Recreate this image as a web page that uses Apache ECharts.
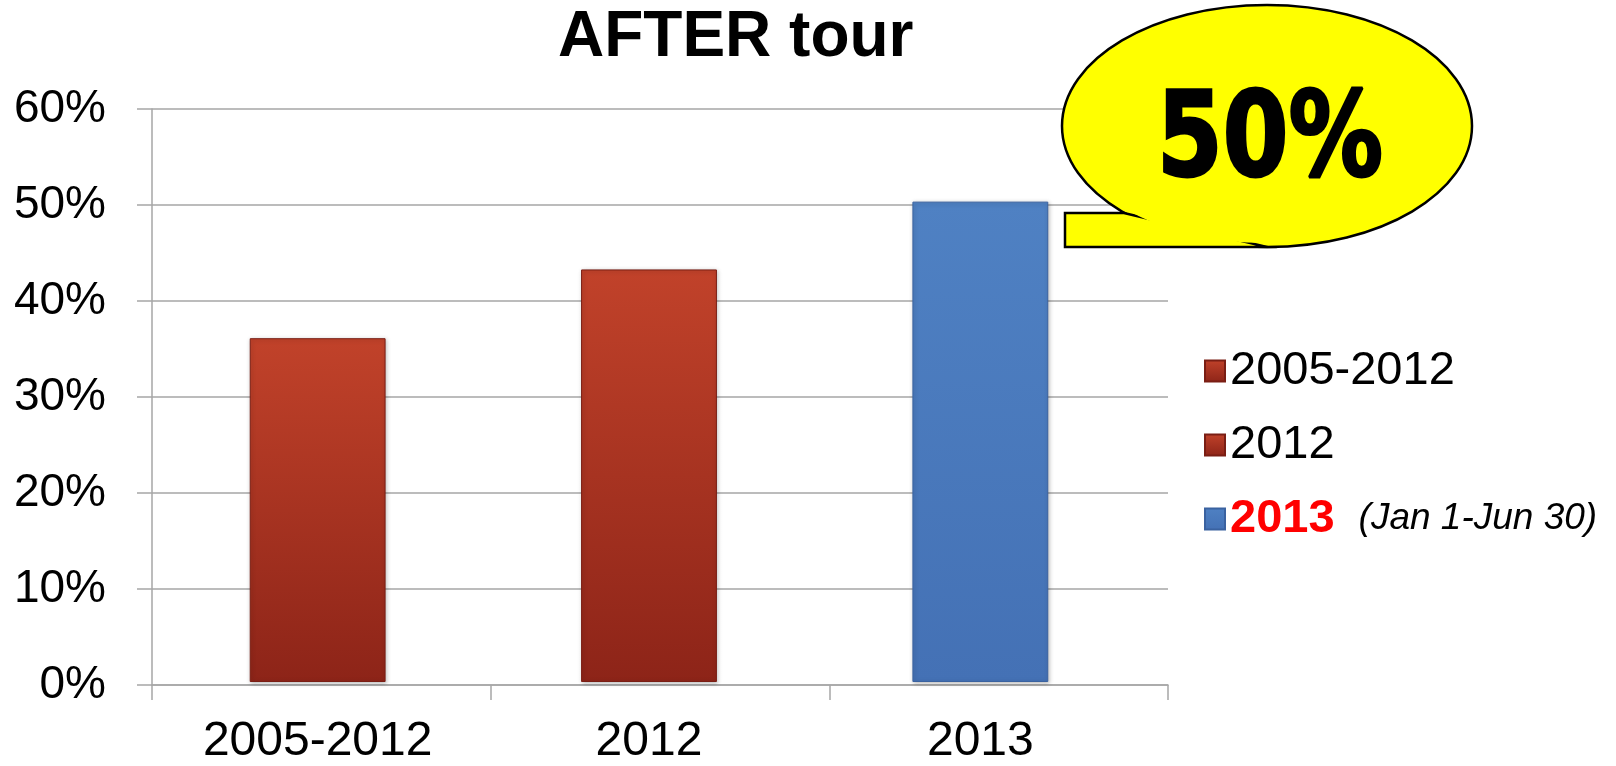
<!DOCTYPE html>
<html>
<head>
<meta charset="utf-8">
<script src="https://cdn.jsdelivr.net/npm/echarts@6/dist/echarts.min.js"></script>
<style>
  html, body { margin: 0; padding: 0; background: #ffffff; }
  #chart { width: 1616px; height: 766px; }
</style>
</head>
<body>
<div id="chart"></div>
<script>
// ---- data ----
const categories = ['2005-2012', '2012', '2013'];
const values = [36.0, 43.2, 50.3];
const yTicks = [0, 10, 20, 30, 40, 50, 60];
const legendNames = ['2005-2012', '2012', '2013'];
const legendNote = '(Jan 1-Jun 30)';
const titleText = 'AFTER tour';

const FONT = '"Liberation Sans", Arial, sans-serif';
const AXIS_GRAY = '#a6a6a6';

function grad(top, bottom) {
  return new echarts.graphic.LinearGradient(0, 0, 0, 1, [
    { offset: 0, color: top },
    { offset: 1, color: bottom }
  ]);
}
const fills = [
  grad('#c1422a', '#8d2418'),
  grad('#c1422a', '#8d2418'),
  grad('#4f81c3', '#4471b5')
];
const borders = ['#7a1e14', '#7a1e14', '#3a62a0'];

const series = categories.map((c, i) => ({
  name: legendNames[i],
  type: 'bar',
  xAxisIndex: 1,
  yAxisIndex: 1,
  stack: 'all',
  barWidth: '41%',
  data: values.map((v, j) => (j === i ? v : '-')),
  itemStyle: {
    color: fills[i],
    borderColor: borders[i],
    borderWidth: 1,
    shadowColor: 'rgba(0,0,0,0.25)',
    shadowBlur: 4,
    shadowOffsetX: 1,
    shadowOffsetY: 1
  }
}));

const chart = echarts.init(document.getElementById('chart'), null, { renderer: 'canvas' });

// callout geometry (annotation, not a data mark)
const cx = 1267, cy = 126, rx = 205, ry = 121;
const calloutText = Math.round(values[2]) + '%';

const yMin = yTicks[0], yMax = yTicks[yTicks.length - 1], yStep = yTicks[1] - yTicks[0];

chart.setOption({
  animation: false,
  backgroundColor: '#ffffff',
  title: {
    text: titleText,
    left: 553,
    top: 1,
    textStyle: { fontFamily: FONT, fontSize: 64, fontWeight: 'bold', color: '#000' }
  },
  grid: [
    { left: 152, right: 448, top: 109, bottom: 81, containLabel: false },
    { left: 152, right: 470, top: 109, bottom: 81, containLabel: false }
  ],
  legend: {
    orient: 'vertical',
    left: 1199,
    top: 341,
    itemWidth: 20,
    itemHeight: 21,
    itemGap: 24,
    selectedMode: false,
    icon: 'rect',
    data: legendNames,
    formatter: function (name) {
      if (name === '2013') return '{r|2013}{i|' + legendNote + '}';
      return name;
    },
    textStyle: {
      fontFamily: FONT,
      fontSize: 47,
      lineHeight: 50,
      color: '#000',
      rich: {
        r: { fontFamily: FONT, fontSize: 47, fontWeight: 'bold', color: '#ff0000', lineHeight: 50 },
        i: { fontFamily: FONT, fontSize: 37, fontStyle: 'italic', color: '#000', lineHeight: 50, padding: [0, 0, 0, 24] }
      }
    }
  },
  xAxis: [
    {
      type: 'category',
      gridIndex: 0,
      data: categories,
      boundaryGap: true,
      axisLine: { show: true, lineStyle: { color: AXIS_GRAY, width: 1.5 } },
      axisTick: { show: true, length: 15, alignWithLabel: false, lineStyle: { color: AXIS_GRAY, width: 1.5 } },
      axisLabel: { show: false }
    },
    {
      type: 'category',
      gridIndex: 1,
      data: categories,
      boundaryGap: true,
      axisLine: { show: false },
      axisTick: { show: false },
      axisLabel: { fontFamily: FONT, fontSize: 48, color: '#000', margin: 36 }
    }
  ],
  yAxis: [
    {
      type: 'value',
      gridIndex: 0,
      min: yMin,
      max: yMax,
      interval: yStep,
      axisLine: { show: true, lineStyle: { color: AXIS_GRAY, width: 1.5 } },
      axisTick: { show: true, length: 15, lineStyle: { color: AXIS_GRAY, width: 1.5 } },
      splitLine: { show: true, lineStyle: { color: AXIS_GRAY, width: 1.5 } },
      axisLabel: { fontFamily: FONT, fontSize: 46, color: '#000', margin: 46, formatter: '{value}%' }
    },
    {
      type: 'value',
      gridIndex: 1,
      min: yMin,
      max: yMax,
      interval: yStep,
      show: false,
      splitLine: { show: false }
    }
  ],
  series: series,
  graphic: [
    {
      type: 'ellipse',
      z: 100,
      shape: { cx: cx, cy: cy, rx: rx, ry: ry },
      style: { fill: '#ffff00', stroke: '#000', lineWidth: 2.5 }
    },
    {
      type: 'polygon',
      z: 101,
      shape: { points: [[1124, 213], [1065, 213], [1065, 247], [1267, 247]] },
      style: { fill: '#ffff00', stroke: '#000', lineWidth: 2.5 }
    },
    {
      type: 'ellipse',
      z: 102,
      shape: { cx: cx, cy: cy, rx: rx - 4, ry: ry - 4 },
      style: { fill: '#ffff00', stroke: null }
    },
    {
      type: 'text',
      z: 103,
      x: 1270,
      y: 144,
      scaleX: 0.8,
      style: {
        text: calloutText,
        fontFamily: '"DejaVu Sans", sans-serif',
        fontWeight: 'bold',
        fontSize: 118,
        fill: '#000',
        stroke: '#000',
        lineWidth: 3,
        lineJoin: 'round',
        align: 'center',
        verticalAlign: 'middle'
      }
    }
  ]
});
</script>
</body>
</html>
